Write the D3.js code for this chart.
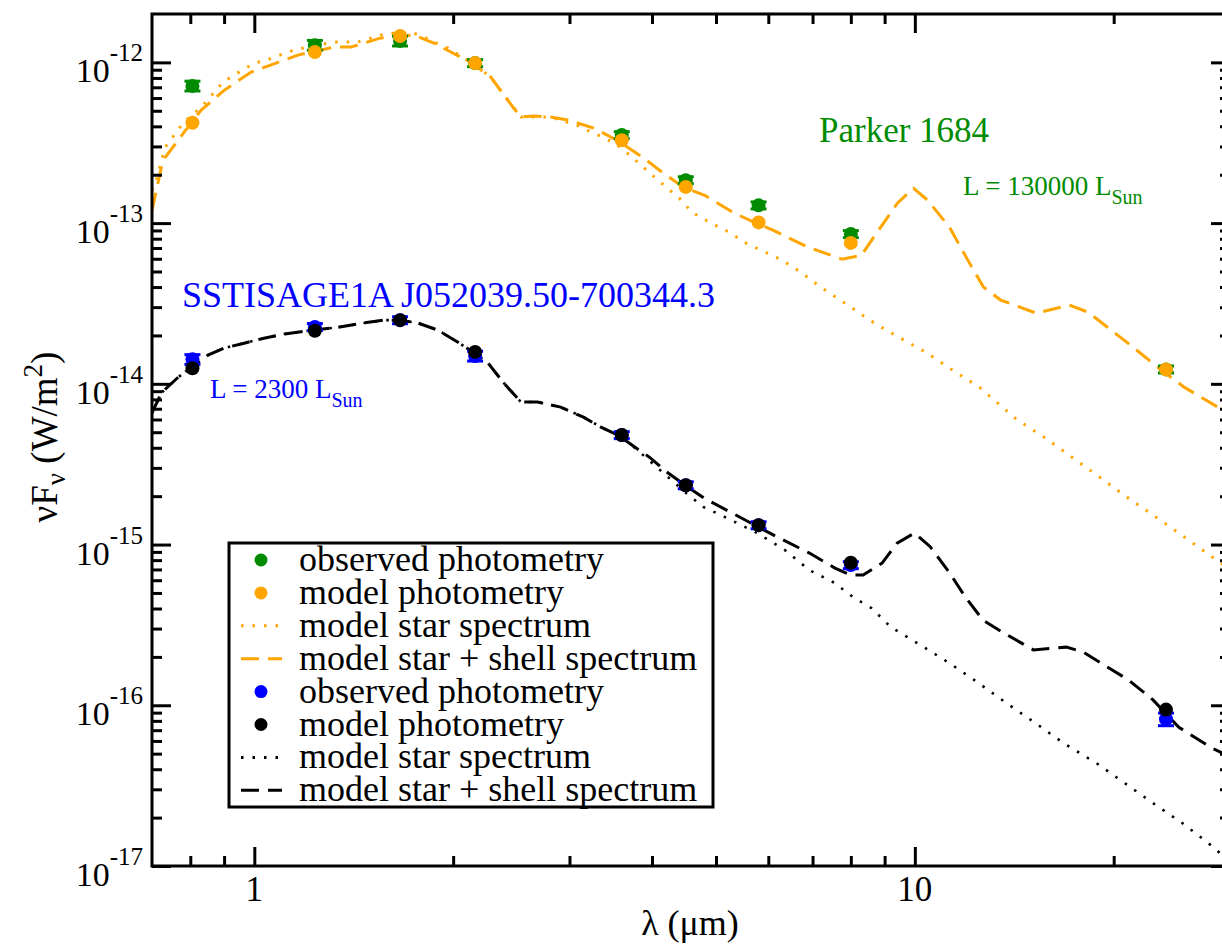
<!DOCTYPE html>
<html><head><meta charset="utf-8">
<script src="https://cdn.jsdelivr.net/npm/d3@7"></script>
<style>
body{margin:0;background:#fff}
svg{display:block}
text{font-family:"Liberation Serif","Times New Roman",serif;fill:#000}
</style>
</head><body>
<svg id="chart" width="1222" height="944"></svg>
<script>
// ---------------- data ----------------
const bands = [0.806, 1.235, 1.662, 2.159, 3.6, 4.5, 5.8, 8.0, 24.0];

const parkerObs    = [7.14e-13, 1.28e-12, 1.36e-12, 9.9e-13, 3.53e-13, 1.85e-13, 1.29e-13, 8.55e-14, 1.23e-14];
const parkerObsErr = [0.07, 0.07, 0.07, 0.05, 0.05, 0.05, 0.05, 0.05, 0.05];
const parkerModel  = [4.21e-13, 1.16e-12, 1.46e-12, 9.9e-13, 3.28e-13, 1.68e-13, 1.01e-13, 7.53e-14, 1.23e-14];

const sageObs    = [1.42e-14, 2.26e-14, 2.49e-14, 1.49e-14, 4.8e-15, 2.34e-15, 1.32e-15, 7.45e-16, 8.2e-17];
const sageObsErr = [0.07, 0.05, 0.05, 0.07, 0.05, 0.05, 0.05, 0.05, 0.09];
const sageModel  = [1.25e-14, 2.14e-14, 2.49e-14, 1.58e-14, 4.8e-15, 2.34e-15, 1.32e-15, 7.7e-16, 9.4e-17];

// [wavelength (um), nuFnu (W/m^2)]
const parkerStar = [[0.70,1.6e-13],[0.708,1.75e-13],[0.733,2.97e-13],[0.780,4.19e-13],[0.831,5.27e-13],[0.897,7.54e-13],[0.932,8.34e-13],[1.0,9.9e-13],[1.042,1.03e-12],[1.124,1.16e-12],[1.164,1.21e-12],[1.320,1.34e-12],[1.435,1.34e-12],[1.555,1.48e-12],[1.61,1.52e-12],[1.744,1.52e-12],[1.806,1.44e-12],[1.884,1.32e-12],[1.963,1.23e-12],[2.127,1.0e-12],[2.28,8.1e-13],[2.387,6.27e-13],[2.533,4.57e-13],[2.81,4.57e-13],[3.077,4.07e-13],[3.513,3.15e-13],[3.70,2.65e-13],[4.053,1.9e-13],[4.406,1.42e-13],[4.595,1.17e-13],[4.893,1.01e-13],[5.263,8.67e-14],[5.51,7.62e-14],[6.29,5.89e-14],[6.745,4.89e-14],[7.2,4.0e-14],[8.0,3.0e-14],[8.54,2.49e-14],[9.16,2.1e-14],[10.45,1.55e-14],[11.29,1.25e-14],[12.53,9.5e-15],[14.30,5.95e-15],[15.76,4.6e-15],[18.57,2.83e-15],[21.26,1.89e-15],[24.34,1.29e-15],[28.88,7.8e-16],[30,7.0e-16]];

const parkerShell = [[0.70,1.2e-13],[0.727,2.45e-13],[0.783,3.68e-13],[0.831,5.05e-13],[0.900,6.7e-13],[0.989,8.7e-13],[1.086,1.0e-12],[1.164,1.11e-12],[1.320,1.245e-12],[1.40,1.245e-12],[1.555,1.42e-12],[1.744,1.48e-12],[1.870,1.32e-12],[1.984,1.16e-12],[2.127,1.0e-12],[2.28,8.1e-13],[2.387,6.27e-13],[2.47,5.2e-13],[2.533,4.57e-13],[2.65,4.64e-13],[2.81,4.57e-13],[2.983,4.38e-13],[3.265,3.9e-13],[3.54,3.28e-13],[3.873,2.57e-13],[4.139,2.08e-13],[4.467,1.67e-13],[4.806,1.49e-13],[5.337,1.15e-13],[5.72,1.01e-13],[6.11,9.0e-14],[6.88,7.1e-14],[7.76,5.97e-14],[8.30,6.3e-14],[8.75,8.67e-14],[9.41,1.33e-13],[9.95,1.65e-13],[10.45,1.39e-13],[11.29,9.4e-14],[11.97,6.1e-14],[12.70,4.0e-14],[13.49,3.32e-14],[15.28,2.75e-14],[17.14,3.09e-14],[18.3,2.79e-14],[19.57,2.25e-14],[21.4,1.69e-14],[23.6,1.22e-14],[25.6,9.5e-15],[29.2,6.9e-15],[30,6.6e-15]];

const sageShell = [[0.70,6.6e-15],[0.723,8.77e-15],[0.767,1.10e-14],[0.851,1.51e-14],[0.90,1.67e-14],[0.965,1.79e-14],[1.034,1.92e-14],[1.109,2.04e-14],[1.232,2.16e-14],[1.339,2.25e-14],[1.465,2.39e-14],[1.569,2.49e-14],[1.66,2.49e-14],[1.768,2.39e-14],[1.895,2.16e-14],[2.031,1.82e-14],[2.158,1.55e-14],[2.258,1.35e-14],[2.387,1.01e-14],[2.533,7.7e-15],[2.684,7.7e-15],[2.91,7.16e-15],[3.15,6.2e-15],[3.347,5.38e-15],[3.55,4.8e-15],[3.98,3.45e-15],[4.21,2.83e-15],[4.488,2.34e-15],[4.79,1.95e-15],[5.725,1.32e-15],[6.2,1.11e-15],[6.925,8.85e-16],[7.57,7.14e-16],[8.0,6.46e-16],[8.35,6.46e-16],[8.92,7.67e-16],[9.4,1.02e-15],[9.99,1.18e-15],[10.55,9.7e-16],[11.28,6.7e-16],[11.92,4.72e-16],[12.68,3.39e-16],[13.55,2.86e-16],[15.12,2.21e-16],[16.96,2.30e-16],[18.0,2.14e-16],[19.56,1.73e-16],[21.05,1.44e-16],[22.94,1.08e-16],[25.1,7.3e-17],[28.2,5.4e-17],[30,4.8e-17]];

const sageStar = [[0.70,6.6e-15],[0.723,8.77e-15],[0.767,1.10e-14],[0.851,1.51e-14],[0.90,1.67e-14],[0.965,1.79e-14],[1.034,1.92e-14],[1.109,2.04e-14],[1.232,2.16e-14],[1.339,2.25e-14],[1.465,2.39e-14],[1.569,2.49e-14],[1.66,2.49e-14],[1.768,2.39e-14],[1.895,2.16e-14],[2.031,1.82e-14],[2.158,1.55e-14],[2.258,1.35e-14],[2.387,1.01e-14],[2.533,7.7e-15],[2.684,7.7e-15],[2.91,7.16e-15],[3.15,6.2e-15],[3.347,5.38e-15],[3.55,4.8e-15],[3.70,4.27e-15],[4.488,2.12e-15],[4.79,1.71e-15],[5.2,1.46e-15],[5.77,1.18e-15],[6.36,9.23e-16],[6.925,6.93e-16],[7.57,5.75e-16],[8.06,4.71e-16],[8.6,4.02e-16],[9.2,3.06e-16],[10.2,2.37e-16],[11.28,1.83e-16],[12.44,1.39e-16],[13.77,1.03e-16],[15.23,7.74e-17],[16.8,5.81e-17],[18.84,4.36e-17],[20.8,3.27e-17],[22.94,2.46e-17],[25.4,1.85e-17],[27.8,1.39e-17],[29.0,1.2e-17],[30,1.1e-17]];

const xMajorTicks = [1, 10];
const xMinorTicks = [0.8, 0.9, 2, 3, 4, 5, 6, 7, 8, 9, 20];
const yMajorExp = [-17, -16, -15, -14, -13, -12];
const yMinorTicks = [];
for (const e of [-17, -16, -15, -14, -13]) for (let k = 2; k <= 9; k++) yMinorTicks.push(k * Math.pow(10, e));

const legendItems = [
  {label: "observed photometry", type: "dot", color: "#008b00"},
  {label: "model photometry", type: "dot", color: "#ffa500"},
  {label: "model star spectrum", type: "dotted", color: "#ffa500"},
  {label: "model star + shell spectrum", type: "dashed", color: "#ffa500"},
  {label: "observed photometry", type: "dot", color: "#0000ff"},
  {label: "model photometry", type: "dot", color: "#000000"},
  {label: "model star spectrum", type: "dotted", color: "#000000"},
  {label: "model star + shell spectrum", type: "dashed", color: "#000000"}
];

// ---------------- chart ----------------
const L = 152, R = 1230, T = 14, B = 866;
const svg = d3.select("#chart");
const x = d3.scaleLog().domain([0.7, 30]).range([L, R]);
const y = d3.scaleLog().domain([1e-17, 2e-12]).range([B, T]);

svg.append("defs").append("clipPath").attr("id", "plotclip")
  .append("rect").attr("x", L).attr("y", T).attr("width", R - L).attr("height", B - T);

const DOT = "2.5,9";
const DASH = "18,9";

// curves
const line = d3.line().x(d => x(d[0])).y(d => y(d[1]));
const curves = svg.append("g").attr("clip-path", "url(#plotclip)").attr("fill", "none");
function addCurve(data, color, dash, w) {
  curves.append("path").datum(data).attr("d", line)
    .attr("stroke", color).attr("stroke-width", w).attr("stroke-dasharray", dash);
}
addCurve(parkerStar, "#ffa500", DOT, 3);
addCurve(parkerShell, "#ffa500", DASH, 3);
addCurve(sageStar, "#000", DOT, 2.6);
addCurve(sageShell, "#000", DASH, 3);

// photometry
function addObs(vals, errs, color) {
  const g = svg.append("g");
  vals.forEach((v, i) => {
    const cx = x(bands[i]);
    const y1 = y(v * (1 + errs[i])), y2 = y(v * (1 - errs[i]));
    g.append("line").attr("x1", cx).attr("x2", cx).attr("y1", y1).attr("y2", y2).attr("stroke", color).attr("stroke-width", 3);
    g.append("line").attr("x1", cx - 8).attr("x2", cx + 8).attr("y1", y1).attr("y2", y1).attr("stroke", color).attr("stroke-width", 3);
    g.append("line").attr("x1", cx - 8).attr("x2", cx + 8).attr("y1", y2).attr("y2", y2).attr("stroke", color).attr("stroke-width", 3);
  });
  g.selectAll("circle").data(vals).join("circle")
    .attr("cx", (d, i) => x(bands[i])).attr("cy", d => y(d)).attr("r", 7).attr("fill", color);
}
function addModel(vals, color) {
  svg.append("g").selectAll("circle").data(vals).join("circle")
    .attr("cx", (d, i) => x(bands[i])).attr("cy", d => y(d)).attr("r", 7).attr("fill", color);
}
addObs(parkerObs, parkerObsErr, "#008b00");
addModel(parkerModel, "#ffa500");
addObs(sageObs, sageObsErr, "#0000ff");
addModel(sageModel, "#000");

// axes (ticks inward on all four sides)
function styleAxis(g) {
  g.select(".domain").remove();
  g.selectAll(".tick line").attr("stroke", "#000").attr("stroke-width", 3);
  g.selectAll(".tick text").remove();
}
svg.append("g").attr("transform", `translate(0,${B})`).call(d3.axisBottom(x).tickValues(xMajorTicks).tickSize(-19)).call(styleAxis);
svg.append("g").attr("transform", `translate(0,${B})`).call(d3.axisBottom(x).tickValues(xMinorTicks).tickSize(-10)).call(styleAxis);
svg.append("g").attr("transform", `translate(0,${T})`).call(d3.axisTop(x).tickValues(xMajorTicks).tickSize(-19)).call(styleAxis);
svg.append("g").attr("transform", `translate(0,${T})`).call(d3.axisTop(x).tickValues(xMinorTicks).tickSize(-10)).call(styleAxis);
const yMajorVals = yMajorExp.map(e => Math.pow(10, e));
svg.append("g").attr("transform", `translate(${L},0)`).call(d3.axisLeft(y).tickValues(yMajorVals).tickSize(-19)).call(styleAxis);
svg.append("g").attr("transform", `translate(${L},0)`).call(d3.axisLeft(y).tickValues(yMinorTicks).tickSize(-10)).call(styleAxis);
svg.append("g").attr("transform", `translate(${R},0)`).call(d3.axisRight(y).tickValues(yMajorVals).tickSize(-19)).call(styleAxis);
svg.append("g").attr("transform", `translate(${R},0)`).call(d3.axisRight(y).tickValues(yMinorTicks).tickSize(-10)).call(styleAxis);

svg.append("rect").attr("x", L).attr("y", T).attr("width", R - L).attr("height", B - T)
  .attr("fill", "none").attr("stroke", "#000").attr("stroke-width", 3);

// tick labels
xMajorTicks.forEach(v => {
  svg.append("text").attr("x", x(v)).attr("y", B + 35).attr("text-anchor", "middle")
    .attr("font-size", 35).text(String(v));
});
yMajorExp.forEach(e => {
  const t = svg.append("text").attr("x", 143).attr("y", y(Math.pow(10, e)) + 20)
    .attr("text-anchor", "end").attr("font-size", 34);
  t.append("tspan").text("10");
  t.append("tspan").attr("dy", -21).attr("font-size", 25).text(String(e));
});

// axis titles
svg.append("text").attr("x", 690).attr("y", 935).attr("text-anchor", "middle").attr("font-size", 36).text("λ (μm)");
const yt = svg.append("text").attr("transform", "translate(57,437) rotate(-90)")
  .attr("text-anchor", "middle").attr("font-size", 37);
yt.append("tspan").text("νF");
yt.append("tspan").attr("dy", 8).attr("font-size", 27).text("ν");
yt.append("tspan").attr("dy", -8).text(" (W/m");
yt.append("tspan").attr("dy", -15).attr("font-size", 27).text("2");
yt.append("tspan").attr("dy", 15).text(")");

// annotations
svg.append("text").attr("x", 819).attr("y", 142).attr("font-size", 35).style("fill", "#008b00").text("Parker 1684");
const l1 = svg.append("text").attr("x", 963).attr("y", 195).attr("font-size", 27).style("fill", "#008b00");
l1.append("tspan").text("L = 130000 L");
l1.append("tspan").attr("dy", 9).attr("font-size", 20).text("Sun");
svg.append("text").attr("x", 182).attr("y", 307).attr("font-size", 36).style("fill", "#0000ff").text("SSTISAGE1A J052039.50-700344.3");
const l2 = svg.append("text").attr("x", 210).attr("y", 398).attr("font-size", 27).style("fill", "#0000ff");
l2.append("tspan").text("L = 2300 L");
l2.append("tspan").attr("dy", 9).attr("font-size", 20).text("Sun");

// legend
const lg = svg.append("g");
lg.append("rect").attr("x", 229).attr("y", 543).attr("width", 484).attr("height", 264)
  .attr("fill", "#fff").attr("stroke", "#000").attr("stroke-width", 3);
legendItems.forEach((it, i) => {
  const cy = 560 + i * 32.9;
  if (it.type === "dot") {
    lg.append("circle").attr("cx", 261).attr("cy", cy).attr("r", 6.5).attr("fill", it.color);
  } else {
    lg.append("line").attr("x1", 241).attr("x2", 282).attr("y1", cy).attr("y2", cy)
      .attr("stroke", it.color).attr("stroke-width", 3)
      .attr("stroke-dasharray", it.type === "dotted" ? DOT : DASH);
  }
  lg.append("text").attr("x", 299).attr("y", cy + 11).attr("font-size", 36).text(it.label);
});
</script>
</body></html>
